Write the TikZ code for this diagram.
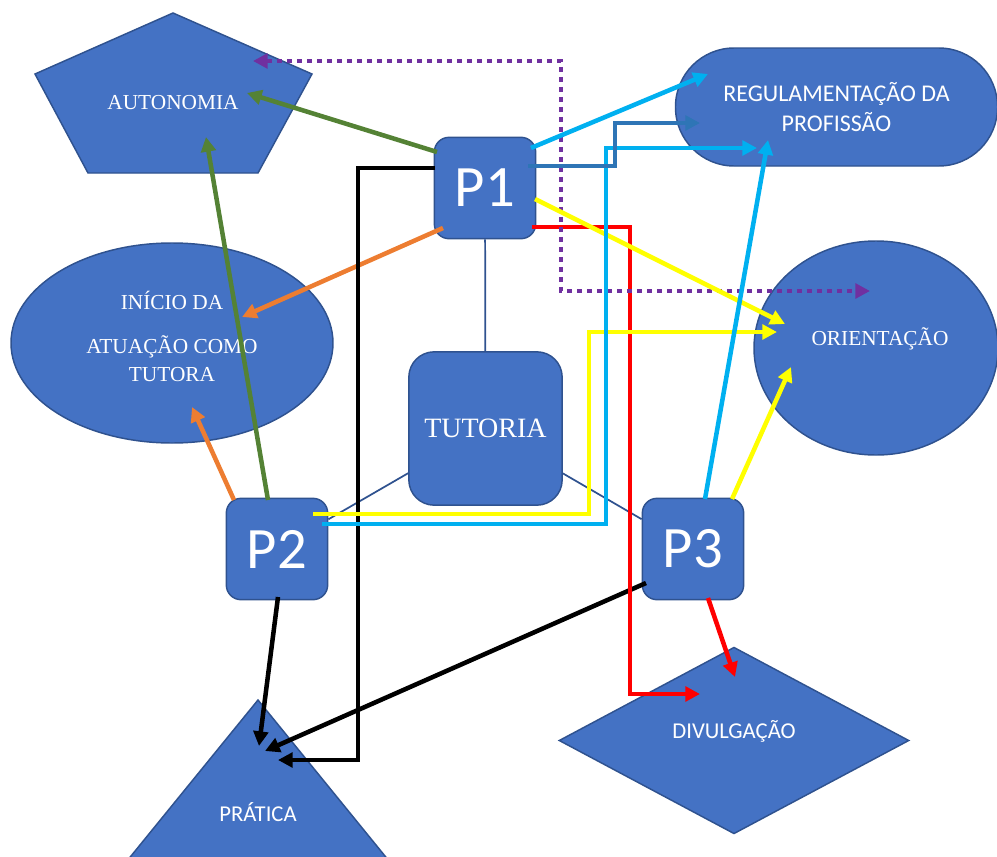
\documentclass[tikz,border=0pt]{standalone}
\usepackage{fontspec}
\setmainfont{Liberation Serif}
\newfontfamily\calibri{Carlito}
\usetikzlibrary{arrows.meta,shapes.geometric}

\definecolor{shapefill}{HTML}{4472C4}
\definecolor{shapeline}{HTML}{2F528F}
\definecolor{cgreen}{HTML}{548235}
\definecolor{corange}{HTML}{ED7D31}
\definecolor{cred}{HTML}{FF0000}
\definecolor{cyellow}{HTML}{FFFF00}
\definecolor{clightblue}{HTML}{00B0F0}
\definecolor{csteel}{HTML}{2E75B6}
\definecolor{cpurple}{HTML}{7030A0}

\tikzset{
  blockshape/.style={draw=shapeline, line width=1.1pt, fill=shapefill, text=white},
  pbox/.style={blockshape, rounded corners=11pt, minimum width=76pt, minimum height=76pt,
    inner sep=0pt, font=\calibri\fontsize{44}{48}\selectfont},
  serlbl/.style={text=white, inner sep=0pt, font=\fontsize{16}{21}\selectfont},
  sanslbl/.style={text=white, inner sep=0pt, font=\calibri\fontsize{17}{22}\selectfont},
  treeline/.style={draw=shapeline, line width=1.3pt},
  arr/.style={line width=3.4pt, -{Triangle[length=11pt,width=11pt]}},
}

\begin{document}
\begin{tikzpicture}[x=0.75pt,y=0.75pt,yscale=-1,xscale=1]
\useasboundingbox (0,0) rectangle (997,857);
\clip (0,0) rectangle (997,857);

%Shape: Pentagon
\draw [blockshape] (173,13) -- (312,74) -- (258,173) -- (88,173) -- (35,74) -- cycle ;
% Text Node
\node [serlbl] (aut) at (173,103) {AUTONOMIA};

%Shape: Triangle
\draw [blockshape] (258,700) -- (398,872) -- (118,872) -- cycle ;
% Text Node
\node [sanslbl] (pra) at (258,812) {PRÁTICA};

%Shape: Ellipse
\node [blockshape, ellipse, minimum width=241.5pt, minimum height=150pt, inner sep=0pt] (ini) at (172,343) {};
% Text Node
\node [serlbl, align=center] (ini-txt) at (172,336) {INÍCIO DA\\[12pt]ATUAÇÃO COMO\\TUTORA};

%Shape: Ellipse
\node [blockshape, ellipse, minimum width=183pt, minimum height=160.5pt, inner sep=0pt] (ori) at (876,348) {};
% Text Node
\node [serlbl] (ori-txt) at (880,339) {ORIENTAÇÃO};

%Shape: Rounded Rectangle
\node [blockshape, rounded corners=44pt, minimum width=241.5pt, minimum height=88.5pt, inner sep=0pt,
  align=center, font=\calibri\fontsize{18}{23}\selectfont] (reg) at (836.5,107) {REGULAMENTAÇÃO DA\\PROFISSÃO};

%Shape: Diamond
\node [blockshape, diamond, minimum width=262.5pt, minimum height=140pt, inner sep=0pt] (div) at (734,740.5) {};
% Text Node
\node [sanslbl] (div-txt) at (734,731) {DIVULGAÇÃO};

%Shape: Rounded Rectangle
\node [blockshape, rounded corners=19pt, minimum width=115pt, minimum height=115pt, inner sep=0pt,
  font=\fontsize{21}{25}\selectfont] (tut) at (485.5,428.5) {TUTORIA};

% P boxes
\node [pbox] (p1) at (485,188) {P1};
\node [pbox] (p2) at (277,549) {P2};
\node [pbox] (p3) at (693,549) {P3};

%Straight Lines
\draw [treeline] (p1) -- (tut);
\draw [treeline] (tut) -- (p2);
\draw [treeline] (tut) -- (p3);

%Green
\draw [arr, cgreen] ([shift={(-48,-36)}]p1.center) -- ([shift={(74,-10)}]aut.center);
\draw [arr, cgreen] ([shift={(-9,-49)}]p2.center) -- ([shift={(33,34)}]aut.center);
%Orange
\draw [arr, corange] ([shift={(-42,40)}]p1.center) -- ([shift={(70,-26)}]ini.center);
\draw [arr, corange] ([shift={(-43,-49)}]p2.center) -- ([shift={(20,64)}]ini.center);
%Black
\draw [arr, black] ([shift={(-50,-20)}]p1.center) -- ++(-77,0) |- ([shift={(20,-52)}]pra.center);
\draw [arr, black] ([shift={(1,48)}]p2.center) -- ([shift={(1,-66)}]pra.center);
\draw [arr, black] ([shift={(-47,34)}]p3.center) -- ([shift={(7,-61)}]pra.center);
%Red
\draw [arr, cred] ([shift={(47,39)}]p1.center) -- ++(98,0) |- ([shift={(-34,-46.5)}]div.center);
\draw [arr, cred] ([shift={(15,49)}]p3.center) -- ([shift={(1,-63.5)}]div.center);
%Purple
\draw [cpurple, line width=3.4pt, dash pattern=on 3.75pt off 3.75pt,
  {Triangle[length=11pt,width=11pt]}-{Triangle[length=11pt,width=11pt]}]
  ([shift={(80,-42)}]aut.center) -- ++(308,0) |- ([shift={(-6,-57)}]ori.center);
%Yellow
\draw [arr, cyellow] ([shift={(50,11)}]p1.center) -- ([shift={(-91,-24)}]ori.center);
\draw [arr, cyellow] ([shift={(36,-35)}]p2.center) -- ++(276,0) |- ([shift={(-99,-16)}]ori.center);
\draw [arr, cyellow] ([shift={(39,-50)}]p3.center) -- ([shift={(-85,19)}]ori.center);
%Light blue
\draw [arr, clightblue] ([shift={(46,-40)}]p1.center) -- ([shift={(-128.5,-33)}]reg.center);
\draw [arr, clightblue] ([shift={(45,-25)}]p2.center) -- ++(284,0) |- ([shift={(-79.5,41)}]reg.center);
\draw [arr, clightblue] ([shift={(12,-50)}]p3.center) -- ([shift={(-68.5,33)}]reg.center);
%Steel blue
\draw [arr, csteel] ([shift={(43,-22)}]p1.center) -- ++(87,0) |- ([shift={(-136.5,16)}]reg.center);

\end{tikzpicture}
\end{document}
